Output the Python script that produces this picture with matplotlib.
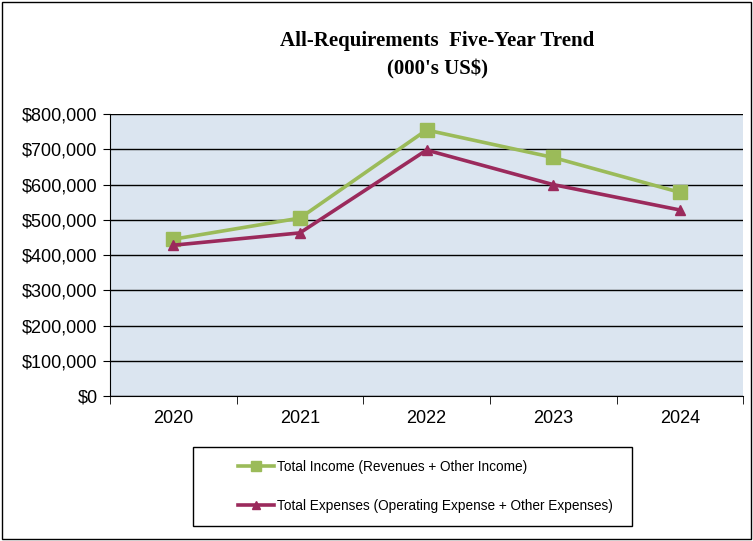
import numpy as np
import matplotlib.pyplot as plt
from matplotlib.patches import Rectangle
from matplotlib.ticker import FuncFormatter

years = ["2020", "2021", "2022", "2023", "2024"]
income = [445000, 505000, 755000, 677000, 578000]
expenses = [428000, 463000, 698000, 600000, 528000]

fig = plt.figure(figsize=(7.53, 5.41), dpi=100)
fig.patch.set_facecolor("white")
fig.patches.append(Rectangle((0.003, 0.004), 0.994, 0.992, transform=fig.transFigure,
                             fill=False, edgecolor="black", linewidth=1.0))

ax = fig.add_axes([0.146, 0.268, 0.841, 0.521])
ax.set_facecolor("#dbe5f0")

x = np.arange(len(years))
ax.plot(x, income, color="#9bbb59", linewidth=2.6, marker="s", markersize=10,
        label="Total Income (Revenues + Other Income)", zorder=3)
ax.plot(x, expenses, color="#9b2a5c", linewidth=2.6, marker="^", markersize=7.5,
        label="Total Expenses (Operating Expense + Other Expenses)", zorder=4)

ax.set_xlim(-0.5, len(years) - 0.5)
ax.set_ylim(0, 800000)
ax.set_yticks(np.arange(0, 800001, 100000))
ax.yaxis.set_major_formatter(FuncFormatter(lambda v, p: f"${v:,.0f}"))
ax.grid(axis="y", color="black", linewidth=1.0)
ax.set_axisbelow(True)

# category ticks between the years, labels at the centres
ax.set_xticks(x)
ax.set_xticklabels(years)
ax.tick_params(axis="x", length=0, pad=10, labelsize=13)
ax.set_xticks(np.arange(-0.5, len(years)), minor=True)
ax.tick_params(axis="x", which="minor", length=6, direction="out", color="black")
ax.tick_params(axis="y", length=5, direction="out", labelsize=13, pad=4)

for s in ["top", "right"]:
    ax.spines[s].set_visible(False)
ax.spines["left"].set_color("black")
ax.spines["bottom"].set_color("black")
for lab in ax.get_xticklabels() + ax.get_yticklabels():
    lab.set_family("Liberation Sans")

fig.text(0.581, 0.924, "All-Requirements  Five-Year Trend", ha="center", va="center",
         family="Liberation Serif", fontweight="bold", fontsize=15)
fig.text(0.581, 0.872, "(000's US$)", ha="center", va="center",
         family="Liberation Serif", fontweight="bold", fontsize=15)

fig.patches.append(Rectangle((0.256, 0.028), 0.583, 0.146, transform=fig.transFigure,
                             fill=False, edgecolor="black", linewidth=1.0))
fig.legend(loc="center left", bbox_to_anchor=(0.300, 0.101), frameon=False,
           prop={"family": "Liberation Sans", "size": 9.8}, handlelength=2.6,
           handletextpad=0.25, labelspacing=1.85, markerscale=0.7)

fig.savefig("out.png", dpi=100)
